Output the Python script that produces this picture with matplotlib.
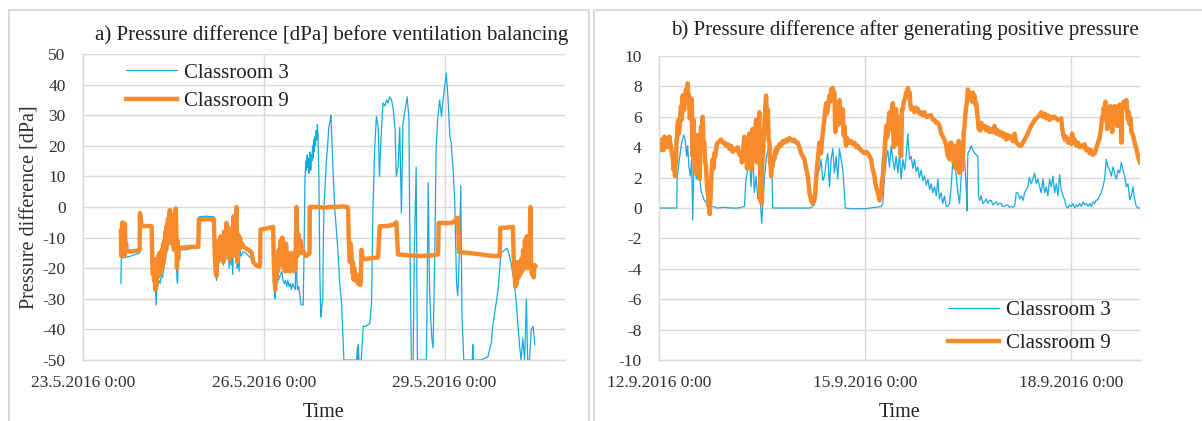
import matplotlib
matplotlib.use("Agg")
import matplotlib.pyplot as plt
from matplotlib.patches import Rectangle
from matplotlib.lines import Line2D

# ---------------- data: panel a (days since 23.5.2016 0:00) ----------------
t_a3 = [0.630, 0.635, 0.66, 0.70, 0.80, 0.90, 0.94, 0.945, 0.973, 1.139,
        1.150, 1.17, 1.19, 1.205, 1.215, 1.225, 1.24, 1.26, 1.28, 1.30, 1.32, 1.34, 1.36, 1.38, 1.40,
        1.42, 1.443, 1.46, 1.48, 1.50, 1.52, 1.54, 1.553, 1.56, 1.57, 1.58, 1.608,
        1.70, 1.80, 1.913, 1.924, 2.05, 2.172,
        2.189, 2.216, 2.23, 2.255, 2.27, 2.285, 2.30, 2.33, 2.345, 2.36, 2.382, 2.395, 2.41, 2.425,
        2.44, 2.455, 2.47, 2.485, 2.50, 2.515, 2.53, 2.549, 2.56, 2.575, 2.59, 2.605, 2.62, 2.659,
        2.70, 2.80, 2.87, 2.94, 2.946, 3.156,
        3.167, 3.18, 3.19, 3.20, 3.22, 3.24, 3.26, 3.28, 3.30, 3.32, 3.34, 3.36, 3.38, 3.40, 3.42,
        3.44, 3.46, 3.48, 3.50, 3.525, 3.535, 3.543, 3.55, 3.56, 3.58, 3.60, 3.62, 3.655,
        3.665, 3.675, 3.685, 3.70, 3.71, 3.72, 3.73, 3.74, 3.75, 3.76, 3.77, 3.78, 3.79, 3.80, 3.81,
        3.82, 3.83, 3.84, 3.85, 3.86, 3.87, 3.88, 3.89, 3.90, 3.915, 3.93, 3.946, 3.96, 3.98, 3.99,
        4.00, 4.02, 4.04, 4.06, 4.08, 4.10, 4.115, 4.13, 4.15, 4.18, 4.23, 4.26, 4.29, 4.31, 4.33,
        4.40, 4.50, 4.54, 4.555, 4.565, 4.57, 4.58, 4.62, 4.65, 4.70, 4.76, 4.79, 4.81, 4.84, 4.87,
        4.90, 4.92, 4.95, 4.98, 5.01, 5.04, 5.065, 5.09, 5.12, 5.15, 5.18, 5.20, 5.23, 5.257, 5.285,
        5.31, 5.34, 5.38, 5.41, 5.42, 5.45, 5.48, 5.50, 5.53, 5.55, 5.60, 5.70, 5.73, 5.75, 5.77,
        5.79, 5.81, 5.84, 5.86, 5.89, 5.92, 5.95, 5.97, 6.00, 6.03, 6.06, 6.09, 6.11, 6.14, 6.17,
        6.20, 6.22, 6.25, 6.27, 6.29, 6.32, 6.40, 6.46, 6.47, 6.48, 6.60, 6.72, 6.78, 6.80, 6.83,
        6.86, 6.89, 6.92, 6.94, 7.00, 7.04, 7.08, 7.11, 7.16, 7.19, 7.22, 7.25, 7.27, 7.30, 7.33,
        7.36, 7.38, 7.41, 7.44, 7.47, 7.50]
v_a3 = [-25, -17, -16.6, -16.5, -16, -15.3, -15, -3, -6.5, -6.5,
        -20, -25, -22, -28, -32, -27, -26, -24, -25, -22, -23, -20, -18, -16, -13,
        -11, -8, -10, -9, -12, -10, -14, -18, -24, -25, -17, -14,
        -14, -13.5, -13.5, -3.2, -3, -3.2,
        -17, -24, -17, -13, -18, -11, -16, -19, -10, -16, -8, -17, -14, -20,
        -12, -19, -13, -22, -8, -16, -9, -2, -20, -15, -21, -14, -16, -14.5,
        -15, -17, -19.5, -19.8, -7.6, -7,
        -20, -28, -30, -26, -25, -24, -23, -22, -21, -24, -25, -24, -26, -24, -26,
        -25, -27, -25, -26, -27, -10, -2, -24, -27, -26, -29, -32, -32,
        -20, -5, 10, 15, 12, 17, 13, 16, 11, 14, 18, 12, 17, 15, 20,
        16, 22, 18, 23, 20, 25, 22, 27, 24, 10, -20, -36, -33, -30, -10,
        0, 8, 15, 20, 26, 28, 30, 22, 12, -1, -14, -25, -31, -40, -50,
        -50, -50, -50, -46, -50, -45, -50, -50, -39, -39, -38, -31, -3, 18.7, 29.6,
        26, 10, 24, 34, 33, 35, 34, 36, 35, 32, 25, 10, 13, 26, -2,
        27, 31, 36, 29, 0, -50, -50, -14, 13, -50, -50, -50, 8, -25, -36,
        -43, -46, -14, 18.7, 29.6, 35, 29.6, 34, 39, 43.7, 35, 23, 21, 13, 2,
        -25, -29, -14, 7, -35.6, -50, -50, -50, -45, -50, -50, -49, -44, -39, -35,
        -31, -27, -19, -15, -14, -13.5, -16, -19, -25, -31, -39, -46, -50, -43, -50,
        -30, -50, -50, -40, -39, -45]

t_a9 = [0.630, 0.635, 0.645, 0.652, 0.657, 0.665, 0.675, 0.685, 0.696, 0.705, 0.715, 0.724,
        0.80, 0.90, 0.94, 0.945, 0.955, 0.973, 1.05, 1.139,
        1.150, 1.16, 1.17, 1.18, 1.19, 1.20, 1.21, 1.222, 1.23, 1.24, 1.25, 1.26, 1.27, 1.28, 1.29,
        1.30, 1.31, 1.32, 1.33, 1.34, 1.35, 1.36, 1.37, 1.38, 1.39, 1.40, 1.41, 1.42, 1.43, 1.443,
        1.45, 1.46, 1.47, 1.48, 1.49, 1.50, 1.51, 1.52, 1.53, 1.54, 1.553, 1.56, 1.57, 1.58, 1.59,
        1.608, 1.70, 1.80, 1.913, 1.924, 2.05, 2.172,
        2.189, 2.20, 2.216, 2.23, 2.24, 2.255, 2.27, 2.285, 2.30, 2.315, 2.33, 2.345, 2.36, 2.382,
        2.395, 2.41, 2.425, 2.44, 2.455, 2.47, 2.485, 2.50, 2.515, 2.53, 2.549, 2.56, 2.575, 2.59,
        2.605, 2.62, 2.64, 2.659, 2.70, 2.75, 2.80, 2.825, 2.87, 2.93, 2.94,
        2.946, 3.05, 3.156,
        3.167, 3.18, 3.19, 3.20, 3.21, 3.22, 3.235, 3.25, 3.265, 3.28, 3.295, 3.31, 3.325, 3.34,
        3.355, 3.37, 3.385, 3.40, 3.415, 3.43, 3.445, 3.46, 3.475, 3.49, 3.51, 3.525, 3.543, 3.555,
        3.565, 3.58, 3.595, 3.61, 3.63, 3.65, 3.67, 3.70, 3.74, 3.76,
        3.764, 3.9, 4.0, 4.1, 4.2, 4.3, 4.39,
        4.40, 4.41, 4.43, 4.44, 4.455, 4.47, 4.48, 4.49, 4.50, 4.52, 4.54, 4.56, 4.58, 4.60, 4.612,
        4.622, 4.64, 4.70, 4.80, 4.897,
        4.925, 5.05, 5.15, 5.20, 5.229, 5.4, 5.6, 5.8, 5.893,
        5.904, 6.05, 6.15, 6.224, 6.241, 6.4, 6.6, 6.8, 6.915, 6.926, 7.0, 7.136,
        7.147, 7.16, 7.175, 7.19, 7.20, 7.215, 7.23, 7.245, 7.26, 7.275, 7.29, 7.305, 7.32, 7.335,
        7.35, 7.365, 7.38, 7.395, 7.41, 7.425, 7.435, 7.45, 7.465, 7.48, 7.495, 7.507]
v_a9 = [-8, -16, -7, -15, -5, -14, -9, -16, -5.5, -14, -12, -14.5,
        -14.5, -14.3, -14, -2, -3, -6.3, -6.2, -6.3,
        -18, -22, -17, -24, -19, -27, -20, -25, -17, -23, -16, -21, -15, -22, -17,
        -19, -14, -20, -12, -18, -11, -15, -8, -14, -6, -12, -4, -10, -3, -1,
        -9, -5, -12, -3, -10, -7, -14, -2, -9, -0.5, -13, -20, -11, -17, -13,
        -13.4, -13.2, -13, -13, -4, -4, -4,
        -16, -21, -22.6, -15, -18, -11, -17, -9.6, -15, -12, -18, -8, -14, -5.2,
        -15, -11, -17, -7, -14, -10, -16, -3, -12, -6, 0, -18, -9, -14,
        -10, -13, -12, -13, -13.5, -14, -15, -18, -19, -19.5, -18,
        -7.4, -7, -6.5,
        -18, -24, -27, -20, -23, -17, -21, -14, -19, -11, -17, -10, -20, -15,
        -21, -12, -20, -15, -21, -17, -21, -15, -20, -16, -21, -20, 0, -12,
        -16, -9, -14, -11, -15, -14, -15, -16, -15.5, -15,
        0, 0, -0.2, 0, 0, 0.2, 0,
        -1, -9.6, -18, -12, -15, -21.5, -18, -23.7, -20, -24, -22, -25, -23, -25.5, -24,
        -14, -17, -17, -16.7, -16.5,
        -6.3, -6.2, -5.8, -5, -15.5, -15.8, -16, -15.8, -15.5,
        -5.2, -5.3, -5, -3.5, -14.7, -15, -15.5, -16, -16, -6.8, -6.8, -6.5,
        -16, -20, -26, -22, -25, -18, -23, -19, -22, -17, -21, -14, -20, -11,
        -18, -9.6, -20, -12, -17, 0, -18, -22, -20, -23, -19, -19.3]

# ---------------- data: panel b (days since 12.9.2016 0:00) ----------------
t_b3 = [0, 0.002, 0.26, 0.262, 0.296, 0.33, 0.359, 0.379, 0.403, 0.417, 0.437, 0.456, 0.476, 0.490,
        0.505, 0.524, 0.544, 0.563, 0.587, 0.612, 0.66, 0.70, 0.733, 0.757, 0.782, 0.85, 0.95, 1.05,
        1.15, 1.243, 1.267, 1.291, 1.316, 1.340, 1.364, 1.388, 1.413, 1.437, 1.461, 1.495, 1.510,
        1.534, 1.558, 1.583, 1.607, 1.631, 1.645, 1.655, 1.8, 2.0, 2.2, 2.262, 2.286, 2.311, 2.335,
        2.359, 2.384, 2.408, 2.432, 2.456, 2.481, 2.505, 2.529, 2.553, 2.578, 2.602, 2.626, 2.650,
        2.675, 2.699, 2.709, 2.8, 3.0, 3.233, 3.257, 3.282, 3.306, 3.330, 3.354, 3.379, 3.403, 3.427,
        3.451, 3.476, 3.5, 3.524, 3.549, 3.573, 3.597, 3.621, 3.646, 3.670, 3.694, 3.718, 3.742,
        3.767, 3.79, 3.816, 3.84, 3.864, 3.89, 3.913, 3.94, 3.961, 3.985, 4.01, 4.035, 4.058, 4.08,
        4.107, 4.13, 4.155, 4.18, 4.204, 4.228, 4.252, 4.277, 4.301, 4.325, 4.350, 4.374, 4.398,
        4.422, 4.447, 4.475, 4.481, 4.488, 4.495, 4.519, 4.544, 4.568, 4.592, 4.616, 4.641, 4.650,
        4.665, 4.689, 4.71, 4.738, 4.76, 4.786, 4.81, 4.835, 4.86, 4.883, 4.91, 4.932, 4.955, 4.981,
        5.0, 5.029, 5.05, 5.078, 5.1, 5.126, 5.15, 5.175, 5.199, 5.223, 5.25, 5.272, 5.30, 5.320,
        5.345, 5.369, 5.39, 5.417, 5.44, 5.466, 5.490, 5.515, 5.539, 5.563, 5.587, 5.612, 5.636,
        5.660, 5.684, 5.709, 5.733, 5.757, 5.782, 5.806, 5.830, 5.854, 5.879, 5.903, 5.927, 5.951,
        5.975, 6.0, 6.025, 6.049, 6.073, 6.097, 6.12, 6.146, 6.17, 6.194, 6.22, 6.243, 6.27, 6.291,
        6.315, 6.340, 6.36, 6.388, 6.41, 6.437, 6.46, 6.485, 6.510, 6.534, 6.558, 6.583, 6.607,
        6.631, 6.655, 6.680, 6.704, 6.728, 6.752, 6.777, 6.801, 6.825, 6.850, 6.874, 6.898, 6.922,
        6.947, 6.971, 7.0]
v_b3 = [-2.3, 0, 0, 1.9, 3.2, 4.3, 4.8, 4.5, 3.4, 4.1, 2.7, 2.1, 3.2, -0.8,
        2.7, 2.5, 1.9, 2.3, 2.5, 1.1, 0.5, 0.3, -0.3, 0.1, 0.1, 0, 0.05, 0,
        0, 0.1, 1.9, 2.5, 3.2, 1.4, 3.6, 1.0, 2.1, 0.6, 1.4, -1.0, 0.3,
        1.9, 3.2, 3.8, 3.2, 4.1, 2.0, 0, 0, 0, 0, 0.2, 1.4, 2.3, 2.5,
        3.2, 1.8, 2.1, 3.0, 3.6, 1.4, 3.2, 3.9, 2.3, 3.4, 1.9, 3.9, 3.2,
        2.5, 1.0, 0, -0.05, -0.05, 0.1, 0.3, 2.1, 3.2, 3.8, 2.7, 4.1, 3.2, 2.5,
        3.4, 2.3, 3.6, 1.9, 3.2, 2.5, 3.4, 4.9, 3.2, 3.4, 2.6, 3.2, 2.4,
        2.7, 2.0, 2.5, 1.8, 2.1, 1.5, 1.9, 1.2, 1.6, 1.0, 1.4, 0.8, 1.9, 0.6,
        1.0, 0.3, 0.8, 0.1, 0.1, 0.3, 1.4, 3.2, 3.6, 2.1, 1.0, 0.3, 2.1,
        3.0, 3.2, 1.0, -0.2, 2.0, 3.6, 3.8, 4.1, 3.8, 3.6, 3.5, 3.4, 0.8,
        0.5, 0.8, 0.3, 0.4, 0.6, 0.3, 0.5, 0.5, 0.2, 0.3, 0.4, 0.2, 0.3, 0.3,
        0.1, 0.1, 0.2, 0.2, 0.05, 0.1, 0.05, 0.1, 1.0, 1.0, 0.6, 0.8, 0.5, 1.0,
        1.2, 1.4, 2.0, 1.6, 1.9, 2.3, 1.6, 1.9, 1.4, 1.0, 1.9, 1.0, 1.4,
        0.8, 1.9, 1.4, 2.1, 1.0, 1.6, 0.8, 2.2, 1.2, 0.8, 0.55, 0.1, 0,
        0.2, 0.1, 0.3, 0, 0.2, 0.1, 0.3, 0.1, 0.4, 0.2, 0.3, 0.1, 0.3, 0.1,
        0.4, 0.3, 0.5, 0.55, 0.8, 1.0, 1.4, 1.9, 3.2, 2.7, 2.5, 2.1, 2.7,
        2.3, 1.9, 2.5, 2.3, 3.0, 2.5, 2.1, 1.4, 1.6, 0.55, 0.8, 1.4, 0.55,
        0.1, 0, 0]

t_b9 = [0, 0.015, 0.029, 0.041, 0.053, 0.065, 0.078, 0.09, 0.102, 0.114, 0.126, 0.138, 0.150,
        0.162, 0.175, 0.187, 0.199, 0.207, 0.214, 0.225, 0.233, 0.240, 0.248, 0.255, 0.262, 0.270,
        0.282, 0.290, 0.301, 0.310, 0.320, 0.330, 0.345, 0.355, 0.369, 0.380, 0.393, 0.405, 0.417,
        0.427, 0.437, 0.446, 0.456, 0.466, 0.476, 0.483, 0.490, 0.497, 0.505, 0.514, 0.524, 0.531,
        0.539, 0.546, 0.553, 0.563, 0.573, 0.582, 0.592, 0.602, 0.612, 0.624, 0.636, 0.648, 0.660,
        0.672, 0.684, 0.699, 0.709, 0.716, 0.723, 0.730, 0.738, 0.748, 0.757, 0.767, 0.782, 0.794,
        0.806, 0.818, 0.830, 0.842, 0.854, 0.878, 0.903, 0.927, 0.951, 0.975, 1.0, 1.025, 1.049,
        1.073, 1.097, 1.121, 1.146, 1.170, 1.194, 1.206, 1.218, 1.230, 1.243, 1.255, 1.267, 1.280,
        1.291, 1.303, 1.316, 1.328, 1.340, 1.352, 1.364, 1.376, 1.388, 1.400, 1.413, 1.425, 1.437,
        1.449, 1.461, 1.468, 1.476, 1.485, 1.495, 1.502, 1.510, 1.522, 1.534, 1.546, 1.558, 1.570,
        1.583, 1.595, 1.607, 1.614, 1.621, 1.631, 1.643, 1.655, 1.668, 1.680, 1.692, 1.704, 1.716,
        1.728, 1.752, 1.777, 1.801, 1.825, 1.850, 1.874, 1.898, 1.922, 1.946, 1.971, 1.995, 2.019,
        2.044, 2.068, 2.092, 2.117, 2.141, 2.165, 2.177, 2.189, 2.201, 2.214, 2.226, 2.238, 2.250,
        2.262, 2.274, 2.286, 2.298, 2.311, 2.323, 2.335, 2.347, 2.359, 2.371, 2.383, 2.395, 2.408,
        2.420, 2.432, 2.444, 2.456, 2.468, 2.481, 2.493, 2.505, 2.517, 2.529, 2.541, 2.553, 2.565,
        2.578, 2.590, 2.602, 2.614, 2.626, 2.638, 2.650, 2.662, 2.675, 2.687, 2.699, 2.711, 2.723,
        2.736, 2.748, 2.772, 2.796, 2.821, 2.845, 2.869, 2.893, 2.918, 2.942, 2.966, 2.990, 3.015,
        3.039, 3.063, 3.087, 3.100, 3.112, 3.124, 3.136, 3.148, 3.160, 3.172, 3.184, 3.196, 3.209,
        3.221, 3.233, 3.245, 3.257, 3.270, 3.282, 3.294, 3.306, 3.318, 3.330, 3.342, 3.354, 3.366,
        3.379, 3.391, 3.403, 3.415, 3.427, 3.439, 3.451, 3.463, 3.476, 3.488, 3.500, 3.512, 3.524,
        3.537, 3.549, 3.561, 3.573, 3.585, 3.597, 3.609, 3.621, 3.634, 3.646, 3.658, 3.670, 3.694,
        3.718, 3.742, 3.767, 3.791, 3.816, 3.840, 3.864, 3.889, 3.913, 3.937, 3.961, 3.985, 4.010,
        4.034, 4.058, 4.083, 4.107, 4.131, 4.155, 4.180, 4.204, 4.216, 4.228, 4.240, 4.252, 4.264,
        4.277, 4.289, 4.301, 4.313, 4.325, 4.337, 4.350, 4.362, 4.374, 4.386, 4.398, 4.410, 4.422,
        4.435, 4.447, 4.459, 4.471, 4.483, 4.495, 4.507, 4.519, 4.531, 4.544, 4.556, 4.568, 4.580,
        4.592, 4.604, 4.617, 4.629, 4.641, 4.653, 4.665, 4.677, 4.689, 4.714, 4.738, 4.762, 4.786,
        4.811, 4.835, 4.859, 4.883, 4.908, 4.932, 4.956, 4.981, 5.005, 5.029, 5.054, 5.078, 5.102,
        5.126, 5.150, 5.175, 5.199, 5.223, 5.248, 5.272, 5.296, 5.320, 5.345, 5.369, 5.393, 5.417,
        5.441, 5.466, 5.490, 5.515, 5.539, 5.563, 5.587, 5.612, 5.636, 5.660, 5.684, 5.709, 5.733,
        5.757, 5.782, 5.806, 5.830, 5.854, 5.866, 5.879, 5.903, 5.927, 5.951, 5.975, 6.0, 6.012,
        6.025, 6.049, 6.073, 6.097, 6.121, 6.146, 6.170, 6.194, 6.218, 6.243, 6.267, 6.291, 6.315,
        6.340, 6.364, 6.388, 6.412, 6.437, 6.449, 6.461, 6.473, 6.485, 6.497, 6.510, 6.522, 6.534,
        6.546, 6.558, 6.570, 6.583, 6.595, 6.607, 6.619, 6.631, 6.643, 6.655, 6.668, 6.680, 6.692,
        6.704, 6.716, 6.728, 6.740, 6.752, 6.764, 6.777, 6.789, 6.801, 6.813, 6.825, 6.838, 6.850,
        6.862, 6.874, 6.898, 6.922, 6.947, 6.971, 7.0]
v_b9 = [4.1, 3.8, 4.5, 3.9, 4.3, 3.8, 4.7, 4.0, 4.3, 4.6, 4.5, 4.0, 4.7,
        4.2, 4.1, 3.5, 3.6, 2.8, 2.5, 3.5, 2.1, 3.0, 3.0, 4.5, 4.5, 5.5,
        5.8, 4.9, 5.4, 6.2, 6.7, 5.8, 7.4, 6.4, 6.5, 7.3, 7.8, 6.9, 8.2,
        7.2, 7.4, 5.9, 6.0, 7.2, 7.1, 4.5, 3.4, 5.8, 5.8, 3.9, 2.3, 4.6,
        4.7, 2.9, 3.2, 4.8, 4.3, 2.6, 1.9, 4.4, 5.4, 4.4, 6.0, 4.2, 4.3,
        3.0, 2.75, 1.4, 1.0, 0.8, 0.1, 0.6, -0.4, 0.5, 1.4, 2.5, 3.2, 2.6,
        3.6, 3.4, 3.8, 4.2, 4.3, 4.4, 4.5, 4.3, 4.3, 4.1, 4.2, 3.9, 4.1,
        3.7, 3.9, 3.8, 4.0, 3.5, 3.6, 3.0, 3.2, 4.2, 4.7, 3.5, 4.1, 2.6,
        3.2, 4.5, 4.9, 3.0, 4.3, 2.5, 5.2, 3.5, 3.2, 4.8, 5.8, 3.0, 4.5,
        5.5, 6.3, 3.0, 0.5, 1.5, 0.3, 3.0, 3.2, 4.6, 5.4, 6.5, 7.4, 6.0,
        6.5, 4.5, 4.3, 3.0, 3.2, 2.1, 3.0, 2.75, 3.4, 3.2, 3.8, 3.6, 4.0,
        3.85, 4.2, 4.1, 4.4, 4.3, 4.5, 4.4, 4.6, 4.5, 4.4, 4.5, 4.3, 4.3,
        4.0, 3.6, 3.4, 3.2, 2.6, 2.1, 1.6, 1.0, 0.8, 0.5, 0.4, 0.3, 0.4,
        0.5, 1.0, 1.9, 2.6, 3.2, 3.8, 4.3, 3.6, 3.6, 4.4, 4.9, 5.4, 6.0,
        6.5, 6.9, 6.2, 6.5, 7.0, 7.4, 7.0, 7.8, 7.3, 7.9, 7.6, 7.6, 5.0,
        5.4, 6.9, 6.9, 5.5, 7.1, 5.6, 5.8, 6.5, 6.5, 4.8, 5.4, 4.5, 4.1,
        4.6, 4.5, 4.3, 4.4, 4.2, 4.3, 4.0, 4.1, 3.9, 3.8, 3.7, 3.6, 3.7,
        3.6, 3.4, 3.2, 2.8, 2.5, 2.3, 2.1, 1.6, 1.4, 1.2, 1.0, 0.8, 0.5,
        0.7, 0.9, 1.8, 2.1, 3.0, 3.6, 4.5, 5.4, 4.6, 4.9, 5.8, 6.3, 5.2,
        5.8, 6.5, 6.9, 4.0, 4.1, 6.4, 6.5, 4.2, 4.7, 6.0, 6.0, 3.6, 3.4,
        6.5, 6.5, 7.0, 7.1, 7.3, 7.6, 7.5, 7.9, 7.3, 7.6, 6.8, 6.5, 6.6,
        6.3, 6.6, 6.5, 6.2, 6.3, 6.1, 6.3, 6.0, 6.0, 6.1, 6.1, 5.8, 5.8,
        5.6, 5.6, 5.4, 4.9, 4.7, 4.5, 4.1, 3.4, 3.6, 3.2, 4.3, 4.3, 3.3,
        3.6, 3.0, 4.1, 2.6, 2.9, 3.9, 3.2, 4.4, 2.3, 3.5, 3.6, 2.5, 3.2,
        5.0, 5.4, 6.2, 6.7, 7.0, 7.8, 7.4, 7.6, 7.2, 7.4, 7.0, 7.6, 7.1,
        7.4, 6.8, 6.9, 6.3, 5.8, 5.2, 5.4, 5.1, 5.6, 5.3, 5.4, 5.1, 5.3,
        5.0, 5.2, 5.0, 5.4, 4.9, 5.1, 4.8, 5.0, 4.7, 4.9, 4.5, 4.8, 4.6,
        4.7, 4.4, 4.9, 4.3, 4.2, 4.1, 4.1, 4.3, 4.5, 4.7, 4.9, 5.2, 5.4,
        5.6, 5.8, 5.9, 6.0, 6.1, 6.3, 6.0, 6.2, 5.9, 6.1, 5.8, 6.0, 5.9,
        6.0, 5.9, 5.8, 5.8, 5.9, 5.3, 4.9, 4.5, 4.7, 4.3, 4.5, 4.2, 4.9,
        4.6, 4.5, 4.1, 4.3, 4.0, 4.1, 4.0, 4.2, 3.8, 3.9, 3.6, 3.8, 3.5,
        3.6, 3.9, 4.3, 4.6, 5.4, 6.0, 5.8, 6.6, 6.2, 7.0, 6.4, 5.2, 6.0,
        6.6, 6.3, 6.7, 6.4, 5.0, 6.6, 6.5, 6.7, 6.4, 6.5, 5.4, 6.7, 6.6,
        6.8, 6.5, 4.3, 6.7, 6.9, 7.0, 6.6, 6.8, 7.1, 6.4, 5.8, 6.3, 5.5,
        5.9, 5.0, 4.8, 4.3, 3.9, 3.4, 3.0]

series_labels = ["Classroom 3", "Classroom 9"]
ticks_a = [0, 3, 6]
ticklabels_a = ["23.5.2016 0:00", "26.5.2016 0:00", "29.5.2016 0:00"]
ticks_b = [0, 3, 6]
ticklabels_b = ["12.9.2016 0:00", "15.9.2016 0:00", "18.9.2016 0:00"]
yticks_a = list(range(-50, 51, 10))
yticks_b = list(range(-10, 11, 2))
title_a = "a) Pressure difference [dPa] before ventilation balancing"
title_b = "b) Pressure difference after generating positive pressure"

# ---------------- styling ----------------
W, H = 1202, 421
BLUE = "#1aa9dd"
ORANGE = "#f78b2b"
GRID = "#d9d9d9"
TXT = "#303030"
plt.rcParams["font.family"] = ["Liberation Serif", "DejaVu Serif"]
plt.rcParams["axes.unicode_minus"] = False

fig = plt.figure(figsize=(W / 100, H / 100), dpi=100)
fig.patch.set_facecolor("white")


def fx(px):
    return px / W


def fy(py):
    return 1 - py / H


# panel borders
fig.patches.append(Rectangle((fx(9), fy(430)), fx(589) - fx(9), fy(10) - fy(430),
                             transform=fig.transFigure, fill=False, ec="#d4d4d4", lw=1.2))
fig.patches.append(Rectangle((fx(594), fy(430)), fx(1215) - fx(594), fy(10) - fy(430),
                             transform=fig.transFigure, fill=False, ec="#d4d4d4", lw=1.2))


def make_axes(x0, x1, y0, y1):
    ax = fig.add_axes([fx(x0), fy(y1), fx(x1) - fx(x0), fy(y0) - fy(y1)])
    for s in ["top", "right"]:
        ax.spines[s].set_visible(False)
    for s in ["left", "bottom"]:
        ax.spines[s].set_color(GRID)
        ax.spines[s].set_linewidth(1.0)
    ax.grid(True, color=GRID, lw=1.0)
    ax.set_axisbelow(True)
    ax.tick_params(length=0, labelsize=12.5, colors=TXT)
    ax.tick_params(axis="y", pad=12.5)
    ax.tick_params(axis="x", pad=10.5)
    return ax


axa = make_axes(83, 565, 54, 360)
axa.plot(t_a3, v_a3, color=BLUE, lw=0.9, label=series_labels[0])
axa.plot(t_a9, v_a9, color=ORANGE, lw=3.2, solid_joinstyle="round", label=series_labels[1])
axa.set_xlim(0, 8)
axa.set_ylim(-50, 50)
axa.set_xticks(ticks_a)
axa.set_xticklabels(ticklabels_a)
axa.set_yticks(yticks_a)
axa.set_ylabel("Pressure difference [dPa]", fontsize=14.5, color=TXT, labelpad=2)
axa.set_xlabel("Time", fontsize=14.5, color="#202020", labelpad=9)

axb = make_axes(659, 1140, 56, 360)
axb.plot(t_b3, v_b3, color=BLUE, lw=0.9, label=series_labels[0])
axb.plot(t_b9, v_b9, color=ORANGE, lw=3.2, solid_joinstyle="round", label=series_labels[1])
axb.set_xlim(0, 7)
axb.set_ylim(-10, 10)
axb.set_xticks(ticks_b)
axb.set_xticklabels(ticklabels_b)
axb.set_yticks(yticks_b)
axb.set_xlabel("Time", fontsize=14.5, color="#202020", labelpad=9)

# titles
fig.text(fx(332), fy(35), title_a, ha="center", va="center", fontsize=15, color="#202020")
fig.text(fx(905), fy(30), title_b, ha="center", va="center", fontsize=15, color="#202020")

# legends
handles = [Line2D([], [], color=BLUE, lw=0.9), Line2D([], [], color=ORANGE, lw=3.2)]
for ax, xl, yc, sp in [(axa, 126, 87, 0.42), (axb, 948, 327, 0.66)]:
    ax.legend(handles, series_labels, loc="center left",
              bbox_to_anchor=(fx(xl), fy(yc)), bbox_transform=fig.transFigure,
              frameon=False, fontsize=15, handlelength=2.45, handletextpad=0.35,
              labelspacing=sp, borderpad=0, borderaxespad=0, labelcolor="#202020")

fig.savefig("out.png", dpi=100, facecolor="white")
